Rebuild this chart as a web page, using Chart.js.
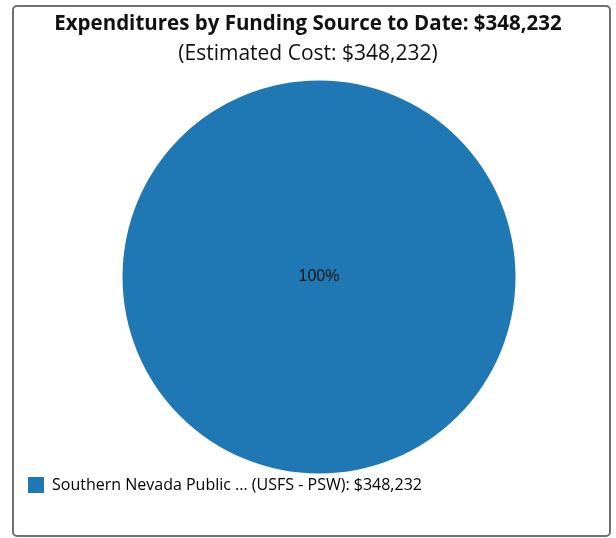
<!DOCTYPE html>
<html lang="en">
<head>
<meta charset="UTF-8">
<title>Expenditures by Funding Source</title>
<script src="https://cdn.jsdelivr.net/npm/chart.js"></script>
<style>
  html, body { margin: 0; padding: 0; background: #fff; }
  .frame {
    position: absolute; left: 12px; top: 5px;
    width: 595px; height: 528px;
    border: 2px solid #707070; border-radius: 5px;
    pointer-events: none;
  }
  .wrap { position: absolute; left: 0; top: 0; width: 616px; height: 538px; }
</style>
</head>
<body>
<div class="wrap"><canvas id="graficoFontes"></canvas></div>
<div class="frame"></div>

<script>
// dados
const fontes = ['Southern Nevada Public ... (USFS - PSW)'];
const valores = [348232];
const custoEstimado = 348232;
const cores = ['#1f77b4'];

const dinheiro = v => '$' + v.toLocaleString('en-US');
const totalGasto = valores.reduce((a, b) => a + b, 0);

// desloca a area do grafico para a direita (pizza fica fora do centro do titulo)
const deslocaPizza = {
  id: 'deslocaPizza',
  afterLayout(chart) {
    chart.chartArea.left += 22;
    chart.chartArea.width = chart.chartArea.right - chart.chartArea.left;
  }
};

// escreve a porcentagem em cada fatia
const rotulosPct = {
  id: 'rotulosPct',
  afterDatasetsDraw(chart) {
    const ctx = chart.ctx;
    const meta = chart.getDatasetMeta(0);
    const dados = chart.data.datasets[0].data;
    const soma = dados.reduce((a, b) => a + b, 0);
    ctx.save();
    ctx.font = '16px "Liberation Sans", Arial, sans-serif';
    ctx.fillStyle = '#111';
    ctx.textAlign = 'center';
    ctx.textBaseline = 'middle';
    meta.data.forEach((arco, i) => {
      const pct = Math.round(dados[i] / soma * 100) + '%';
      const p = arco.circumference >= Math.PI * 2 - 0.001
        ? { x: arco.x, y: arco.y }
        : arco.tooltipPosition();
      ctx.fillText(pct, p.x, p.y);
    });
    ctx.restore();
  }
};

new Chart(document.getElementById('graficoFontes'), {
  type: 'pie',
  data: {
    labels: fontes,
    datasets: [{
      data: valores,
      backgroundColor: cores,
      borderWidth: 0,
      radius: 196.5
    }]
  },
  options: {
    responsive: true,
    maintainAspectRatio: false,
    animation: false,
    layout: { padding: { left: 18, right: 18, top: 0, bottom: 35 } },
    plugins: {
      title: {
        display: true,
        text: 'Expenditures by Funding Source to Date: ' + dinheiro(totalGasto),
        color: '#111',
        font: { family: '"Open Sans", sans-serif', size: 20.5, weight: 'bold', lineHeight: 1.2 },
        padding: { top: 12.2, bottom: 0 }
      },
      subtitle: {
        display: true,
        text: '(Estimated Cost: ' + dinheiro(custoEstimado) + ')',
        color: '#111',
        font: { family: '"Open Sans", sans-serif', size: 21, weight: 'normal', lineHeight: 1.2 },
        padding: { top: 5.1, bottom: 19.9 }
      },
      legend: {
        position: 'bottom',
        align: 'start',
        labels: {
          boxWidth: 16,
          boxHeight: 16,
          padding: 10,
          color: '#111',
          font: { family: '"Open Sans", sans-serif', size: 16 },
          generateLabels(chart) {
            const ds = chart.data.datasets[0];
            return chart.data.labels.map((rot, i) => ({
              text: rot + ': ' + dinheiro(ds.data[i]),
              fillStyle: ds.backgroundColor[i],
              strokeStyle: ds.backgroundColor[i],
              lineWidth: 0,
              index: i
            }));
          }
        }
      },
      tooltip: { enabled: false }
    }
  },
  plugins: [deslocaPizza, rotulosPct]
});
</script>
</body>
</html>
